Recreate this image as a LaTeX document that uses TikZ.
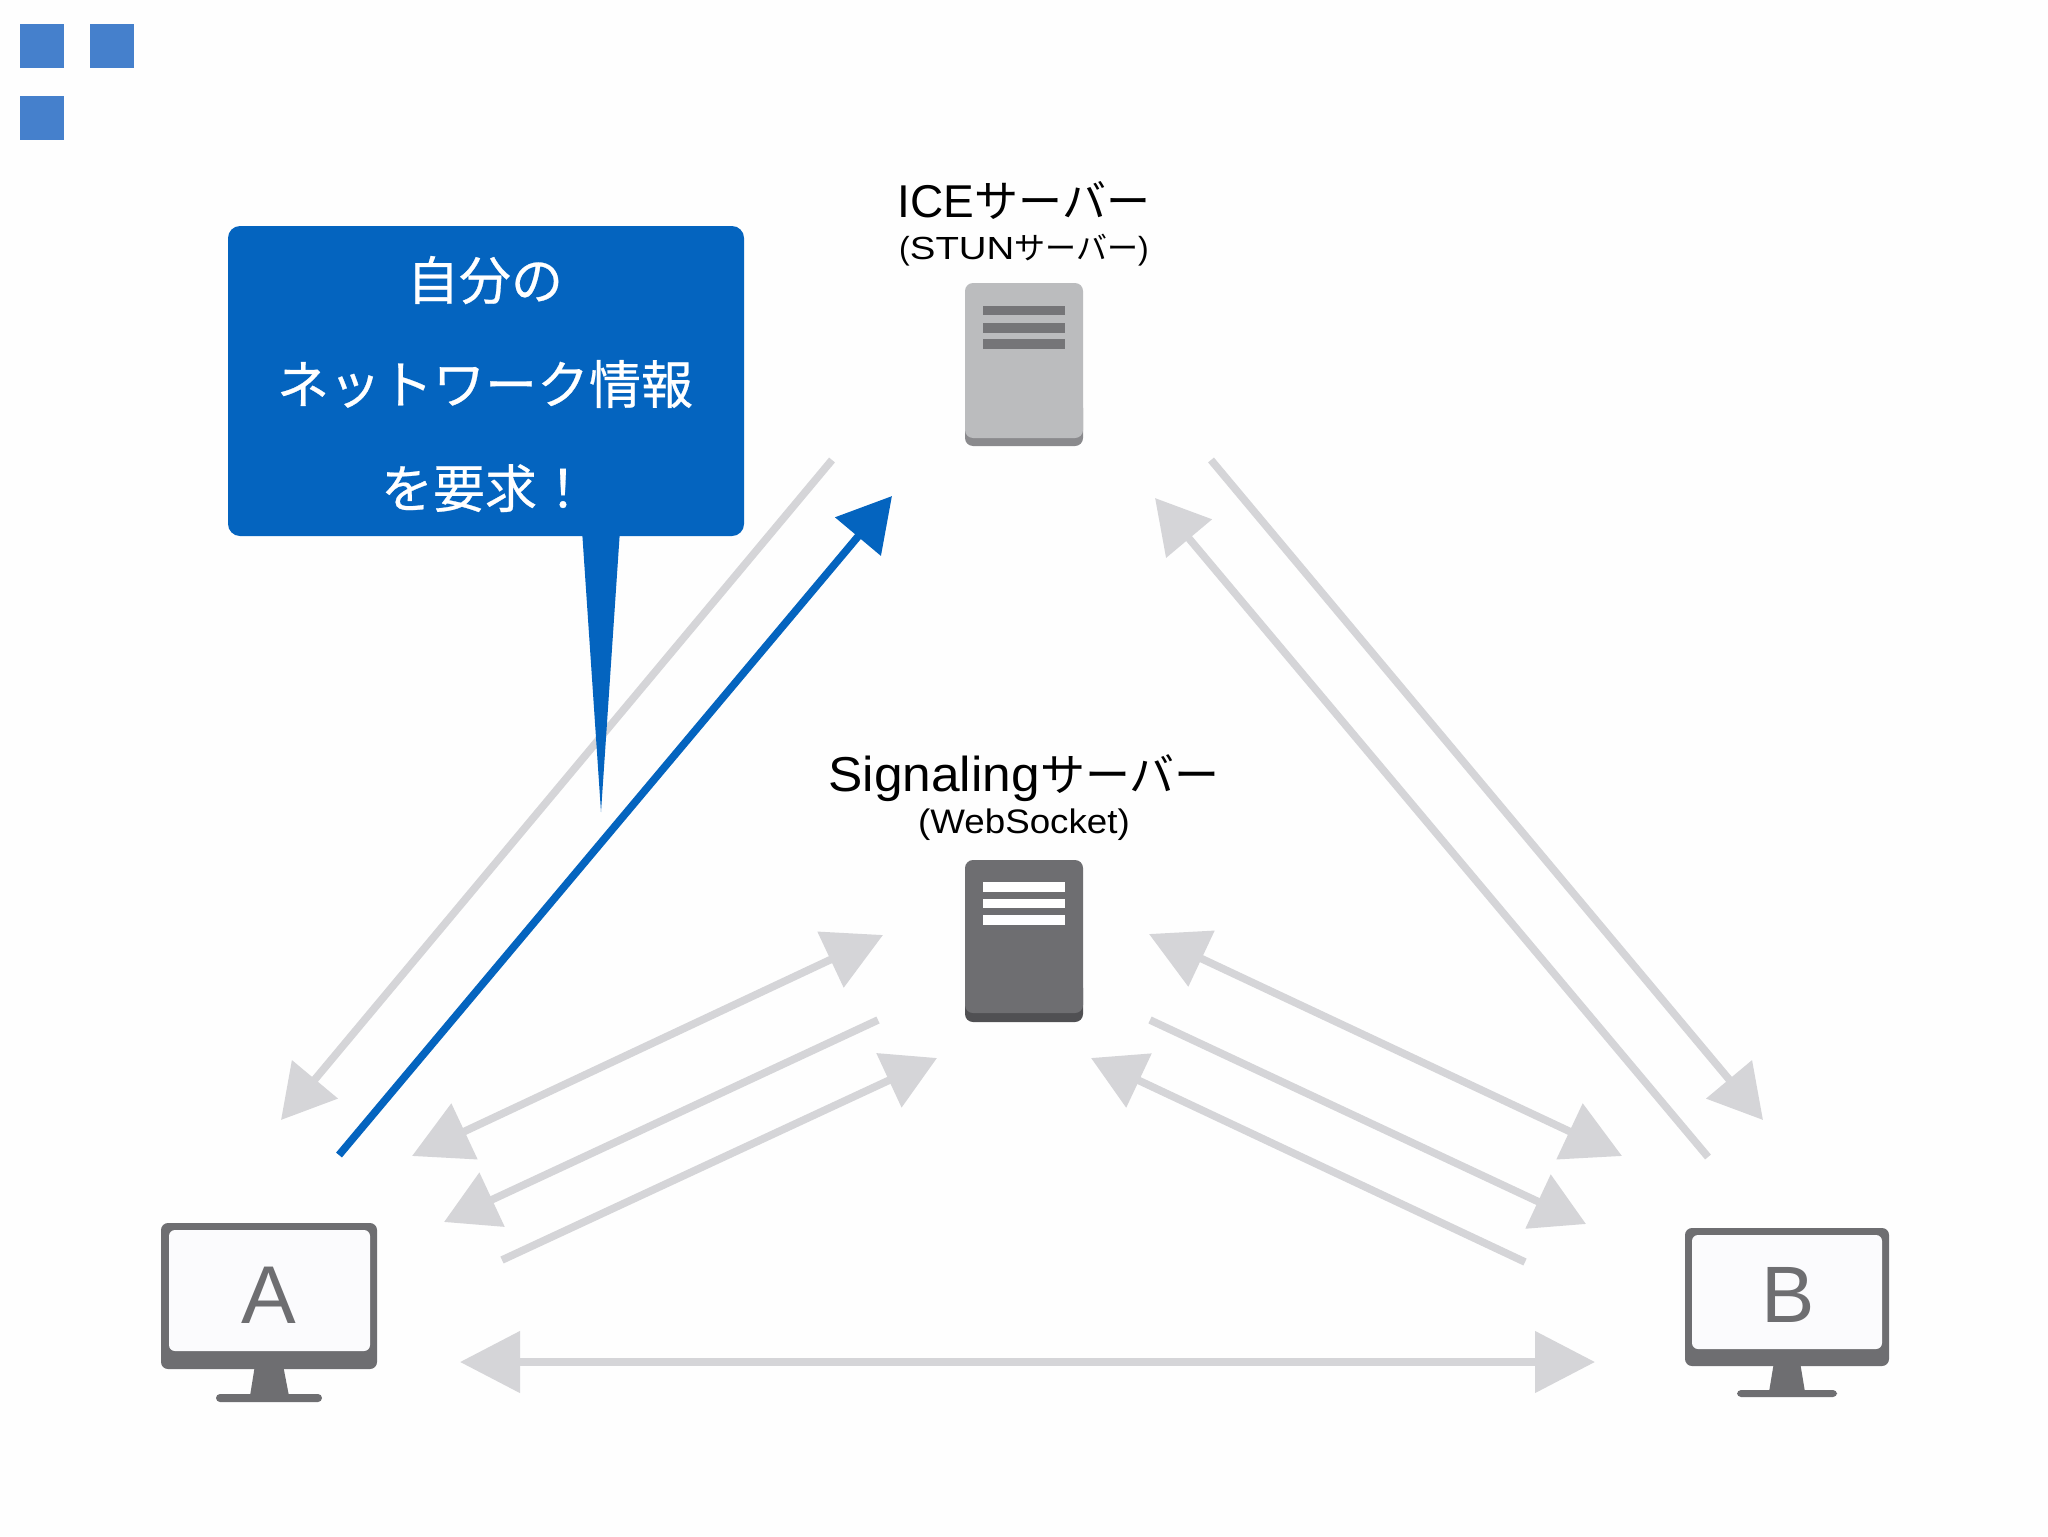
\documentclass[tikz,border=0pt]{standalone}
\usepackage{fontspec}
\usepackage{graphicx}
\usetikzlibrary{arrows.meta}
\setmainfont{Liberation Sans}
\newfontfamily\jp{Noto Sans CJK JP}
\newfontfamily\jpm[FakeBold=0.5]{Noto Sans CJK JP}
\definecolor{pagebg}{HTML}{FEFEFE}
\definecolor{cblue}{HTML}{0464BF}
\definecolor{sq}{HTML}{4580CC}
\definecolor{gline}{HTML}{D5D5D8}
\definecolor{dgray}{HTML}{6E6E71}
\definecolor{band}{HTML}{505053}
\definecolor{lgray}{HTML}{BBBCBE}
\definecolor{lbar}{HTML}{757578}
\definecolor{lband}{HTML}{8A8A8D}
\definecolor{scr}{HTML}{FBFBFD}
\tikzset{
  sqbox/.style={fill=sq},
  ga/.style={draw=gline,line width=3.8pt,-{Triangle[length=26.5pt,width=29pt,fill=gline]}},
  gab/.style={draw=gline,line width=3.8pt,{Triangle[length=29pt,width=30pt,fill=gline]}-{Triangle[length=29pt,width=30pt,fill=gline]}},
  gbot/.style={draw=gline,line width=4pt,{Triangle[length=30pt,width=30pt,fill=gline]}-{Triangle[length=30pt,width=30pt,fill=gline]}},
  ba/.style={draw=cblue,line width=3.8pt,-{Triangle[length=26.5pt,width=29pt,fill=cblue]}},
  calltxt/.style={text=white,align=center,inner sep=0pt,font=\jpm\fontsize{26}{52}\selectfont},
  title/.style={text=black,inner sep=0pt,anchor=center},
  scrtxt/.style={text=dgray,inner sep=0pt,anchor=center}
}
\newcommand{\lw}[2]{\scalebox{#1}[1]{#2}}
\begin{document}
\begin{tikzpicture}[x=0.5pt,y=-0.5pt]
\useasboundingbox (0,0) rectangle (2048,1536);
\fill[pagebg] (0,0) rectangle (2048,1536);
% corner squares
\fill[sqbox] (20,24) rectangle (64,68);
\fill[sqbox] (90,24) rectangle (134,68);
\fill[sqbox] (20,96) rectangle (64,140);
% ICE server
\fill[lband,rounded corners=4pt] (965,400) rectangle (1083,446);
\fill[lgray,rounded corners=4pt] (965,283) rectangle (1083,438);
\fill[lgray] (972,420) rectangle (1076,438);
\fill[lbar] (983,306) rectangle (1065,315);
\fill[lbar] (983,323) rectangle (1065,333);
\fill[lbar] (983,339) rectangle (1065,349);
% Signaling server
\fill[band,rounded corners=4pt] (965,980) rectangle (1083,1022);
\fill[dgray,rounded corners=4pt] (965,860) rectangle (1083,1013);
\fill[dgray] (972,1000) rectangle (1076,1013);
\fill[white] (983,882) rectangle (1065,892);
\fill[white] (983,899) rectangle (1065,908);
\fill[white] (983,915) rectangle (1065,925);
% monitor A
\fill[dgray,rounded corners=3.5pt] (161,1223) rectangle (377,1369);
\fill[scr,rounded corners=3pt] (169,1230) rectangle (370,1351);
\fill[dgray] (255,1365) -- (283,1365) -- (289,1396) -- (250,1396) -- cycle;
\fill[dgray,rounded corners=2pt] (216,1394) rectangle (322,1402);
% monitor B
\fill[dgray,rounded corners=3.5pt] (1685,1228) rectangle (1889,1366);
\fill[scr,rounded corners=3pt] (1692,1235) rectangle (1882,1349);
\fill[dgray] (1774,1362) -- (1800,1362) -- (1805,1392) -- (1769,1392) -- cycle;
\fill[dgray,rounded corners=2pt] (1737,1390) rectangle (1837,1397);
% labels
\node[title] (ice) at (1024,200) {\fontsize{23}{23}\selectfont ICE{\jp\fontsize{22}{22}\selectfont サーバー}};
\node[title] (stun) at (1024,250) {\fontsize{16}{16}\selectfont (\lw{1.2}{STUN}{\jp\fontsize{15.5}{16}\selectfont サーバー})};
\node[title] (sig) at (1024,778) {\lw{1.05}{\fontsize{24.5}{25}\selectfont Signaling}{\jp\fontsize{22.5}{23}\selectfont サーバー}};
\node[title] (ws) at (1024,825) {\lw{1.08}{\fontsize{17}{17}\selectfont (WebSocket)}};
\node[scrtxt,font=\fontsize{41}{41}\selectfont] (a) at (269,1295) {A};
\node[scrtxt,font=\fontsize{40}{40}\selectfont] (b) at (1788,1295) {B};
% coordinates
\coordinate (ai1s) at (832,460); \coordinate (ai1e) at (281,1120);
\coordinate (ai2s) at (339,1155); \coordinate (ai2e) at (892,496);
\coordinate (bi1s) at (1211,460); \coordinate (bi1e) at (1763,1120);
\coordinate (bi2s) at (1708,1157); \coordinate (bi2e) at (1155,498);
\coordinate (as1s) at (412,1156); \coordinate (as1e) at (883,935);
\coordinate (as2s) at (878,1020); \coordinate (as2e) at (444,1222);
\coordinate (as3s) at (502,1260); \coordinate (as3e) at (937,1058);
\coordinate (bs1s) at (1622,1156); \coordinate (bs1e) at (1149,934);
\coordinate (bs2s) at (1150,1020); \coordinate (bs2e) at (1586,1224);
\coordinate (bs3s) at (1525,1262); \coordinate (bs3e) at (1091,1058);
\coordinate (ab1) at (460,1362); \coordinate (ab2) at (1595,1362);
% connectors
\draw[ga] (ai1s) -- (ai1e);
\draw[ga] (bi1s) -- (bi1e);
\draw[ga] (bi2s) -- (bi2e);
\draw[gab] (as1s) -- (as1e);
\draw[ga] (as2s) -- (as2e);
\draw[ga] (as3s) -- (as3e);
\draw[gab] (bs1s) -- (bs1e);
\draw[ga] (bs2s) -- (bs2e);
\draw[ga] (bs3s) -- (bs3e);
\draw[gbot] (ab1) -- (ab2);
\draw[ba] (ai2s) -- (ai2e);
% callout
\fill[cblue,rounded corners=6pt] (228,226) rectangle (744,536);
\fill[cblue] (582,530) -- (620,530) -- (601,812) -- cycle;
\node[calltxt] (call) at (485,384) {自分の\\ネットワーク情報\\を要求！};
\end{tikzpicture}
\end{document}
